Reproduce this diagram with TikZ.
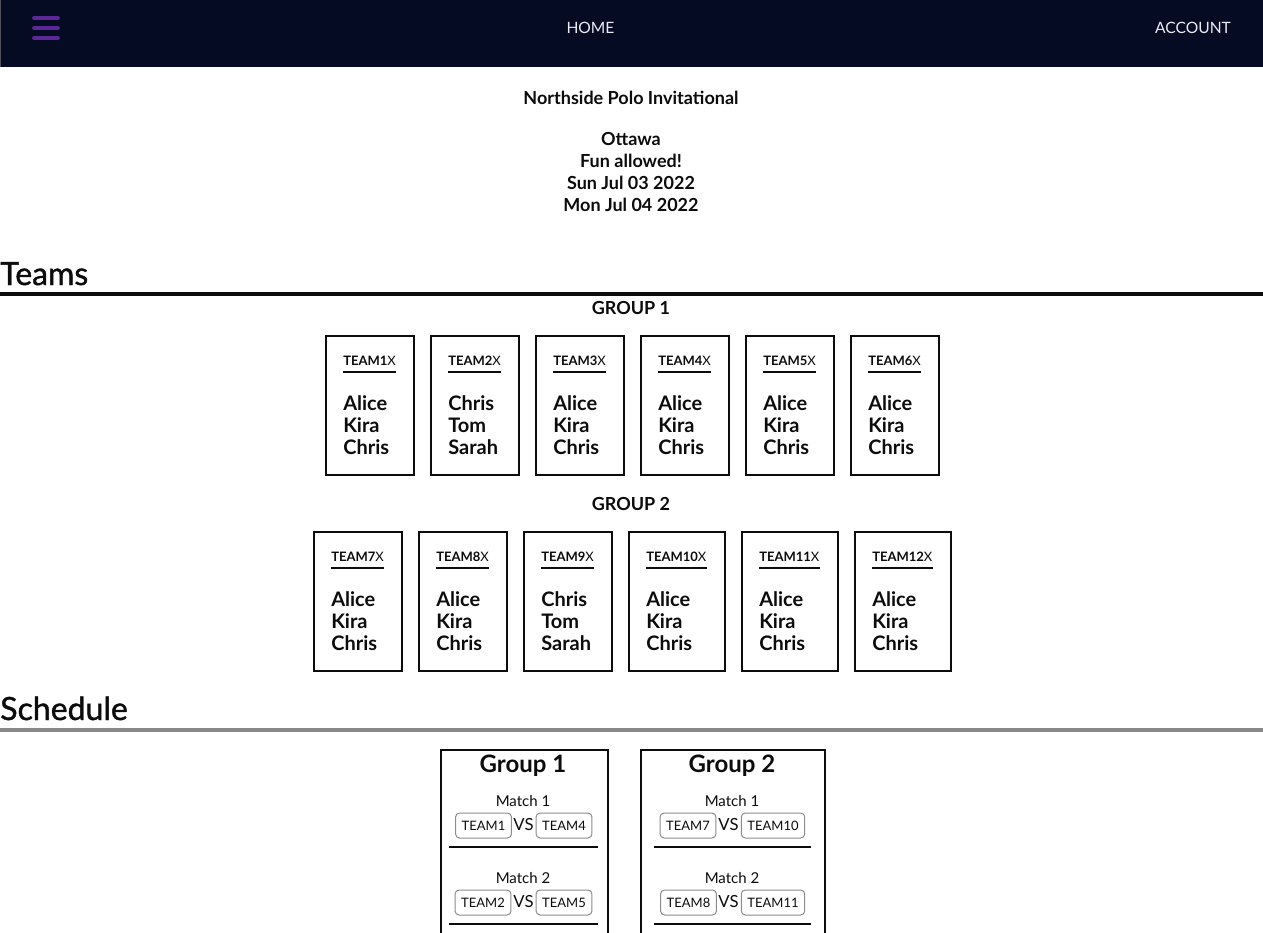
\documentclass[tikz,border=0pt]{standalone}
\usepackage{fontspec}
\setmainfont{Lato}
\newfontfamily\headfont[FakeBold=1.2]{Lato}
\definecolor{navbg}{RGB}{6,11,36}
\definecolor{burgerc}{RGB}{92,40,152}
\definecolor{navtxt}{RGB}{235,235,242}
\definecolor{btnline}{RGB}{140,140,140}
\definecolor{schedline}{RGB}{136,136,136}
\definecolor{ink}{RGB}{12,12,12}
\tikzset{
  navtext/.style={text=navtxt, inner sep=0pt, font=\fontsize{11.7pt}{13pt}\selectfont},
  burger/.style={draw=burgerc, line width=2.7pt, line cap=round},
  titletext/.style={text=ink, inner sep=0pt, font=\fontsize{13.5pt}{16.5pt}\bfseries\selectfont, align=center},
  heading/.style={text=ink, inner sep=0pt, anchor=base west, font=\headfont\fontsize{24pt}{28pt}\selectfont},
  grouplabel/.style={text=ink, inner sep=0pt, font=\fontsize{13.5pt}{16pt}\bfseries\selectfont},
  teamcard/.style={draw=ink, line width=1.5pt, minimum height=104.5pt, inner sep=0pt},
  hdr/.style={text=ink, inner sep=0pt, font=\fontsize{9.75pt}{12pt}\selectfont},
  uline/.style={draw=ink, line width=1.6pt},
  names/.style={text=ink, inner sep=0pt, align=left, font=\fontsize{15pt}{16.5pt}\bfseries\selectfont},
  schedbox/.style={draw=ink, line width=1.5pt, inner sep=0pt, minimum height=200pt},
  schedtitle/.style={text=ink, inner sep=0pt, font=\fontsize{18pt}{20pt}\bfseries\selectfont},
  matchlabel/.style={text=ink, inner sep=0pt, font=\fontsize{11.25pt}{13pt}\selectfont},
  btn/.style={draw=btnline, line width=0.75pt, rounded corners=3pt, text=ink, minimum height=18.75pt, inner ysep=0pt, inner xsep=4.6pt, font=\fontsize{9.75pt}{12pt}\selectfont},
  vs/.style={text=ink, inner sep=0pt, font=\fontsize{12.5pt}{14pt}\selectfont},
  sepline/.style={draw=ink, line width=1.5pt}
}
% #1 id, #2 left x, #3 top y, #4 width px, #5 number, #6 names
\newcommand\teambox[6]{%
  \node[teamcard, minimum width={#4*0.75pt}, anchor=north west] (card#1) at (#2,#3) {};
  \node[hdr, anchor=base west] (hdr#1) at (#2+18,#3+30) {\textbf{TEAM#5}X};
  \draw[uline] ([yshift=-5.25pt]hdr#1.base west) -- ([yshift=-5.25pt]hdr#1.base east);
  \node[names, anchor=west] (names#1) at (#2+18,#3+90) {#6};
}
\begin{document}
\begin{tikzpicture}[x=0.75pt,y=-0.75pt]
\useasboundingbox (0,0) rectangle (1263,932);
\clip (0,0) rectangle (1263,932);
\fill[white] (0,0) rectangle (1263,932);
% nav bar
\fill[navbg] (0,0) rectangle (1263,67);
\draw[gray!60!navbg, line width=0.75pt] (0.5,0) -- (0.5,67);
\draw[burger] (34,18) -- (58,18);
\draw[burger] (34,28) -- (58,28);
\draw[burger] (34,38) -- (58,38);
\node[navtext] (home) at (590.5,28) {HOME};
\node[navtext] (account) at (1193,28) {ACCOUNT};
% header info
\node[titletext] (title) at (631,97.5) {Northside Polo Invitational};
\node[titletext] (info) at (631,171.5) {Ottawa\\Fun allowed!\\Sun Jul 03 2022\\Mon Jul 04 2022};
% Teams
\node[heading] (teams) at (0,285) {Teams};
\fill[ink] (0,292) rectangle (1263,296);
\node[grouplabel] (g1) at (631,307.5) {GROUP 1};
\teambox{1}{325}{335}{88}{1}{Alice\\Kira\\Chris}
\teambox{2}{430}{335}{88}{2}{Chris\\Tom\\Sarah}
\teambox{3}{535}{335}{88}{3}{Alice\\Kira\\Chris}
\teambox{4}{640}{335}{88}{4}{Alice\\Kira\\Chris}
\teambox{5}{745}{335}{88}{5}{Alice\\Kira\\Chris}
\teambox{6}{850}{335}{88}{6}{Alice\\Kira\\Chris}
\node[grouplabel] (g2) at (631,503.5) {GROUP 2};
\teambox{7}{313}{531}{88}{7}{Alice\\Kira\\Chris}
\teambox{8}{418}{531}{88}{8}{Alice\\Kira\\Chris}
\teambox{9}{523}{531}{88}{9}{Chris\\Tom\\Sarah}
\teambox{10}{628}{531}{96}{10}{Alice\\Kira\\Chris}
\teambox{11}{741}{531}{96}{11}{Alice\\Kira\\Chris}
\teambox{12}{854}{531}{96}{12}{Alice\\Kira\\Chris}
% Schedule
\node[heading] (schedule) at (0,720) {Schedule};
\fill[schedline] (0,728) rectangle (1263,732);
% group 1 schedule
\node[schedbox, minimum width={167*0.75pt}, anchor=north west] (s1) at (440,749) {};
\node[schedtitle] (s1t) at (523,765.5) {Group 1};
\node[matchlabel] (s1m1) at (523,801) {Match 1};
\node[vs] (s1vs1) at (523.5,825) {VS};
\node[btn] (s1a) at (483.5,825.5) {TEAM1};
\node[btn] (s1b) at (564,825.5) {TEAM4};
\draw[sepline] (449,847) -- (598,847);
\node[matchlabel] (s1m2) at (523,878) {Match 2};
\node[vs] (s1vs2) at (523.5,902) {VS};
\node[btn] (s1c) at (483,902.5) {TEAM2};
\node[btn] (s1d) at (564,902.5) {TEAM5};
\draw[sepline] (449,924) -- (598,924);
% group 2 schedule
\node[schedbox, minimum width={184*0.75pt}, anchor=north west] (s2) at (640,749) {};
\node[schedtitle] (s2t) at (732,765.5) {Group 2};
\node[matchlabel] (s2m1) at (732,801) {Match 1};
\node[vs] (s2vs1) at (728.5,825) {VS};
\node[btn] (s2a) at (688,825.5) {TEAM7};
\node[btn] (s2b) at (773,825.5) {TEAM10};
\draw[sepline] (654,847) -- (811,847);
\node[matchlabel] (s2m2) at (732,878) {Match 2};
\node[vs] (s2vs2) at (728.5,902) {VS};
\node[btn] (s2c) at (688.5,902.5) {TEAM8};
\node[btn] (s2d) at (773,902.5) {TEAM11};
\draw[sepline] (654,924) -- (811,924);
\end{tikzpicture}
\end{document}
